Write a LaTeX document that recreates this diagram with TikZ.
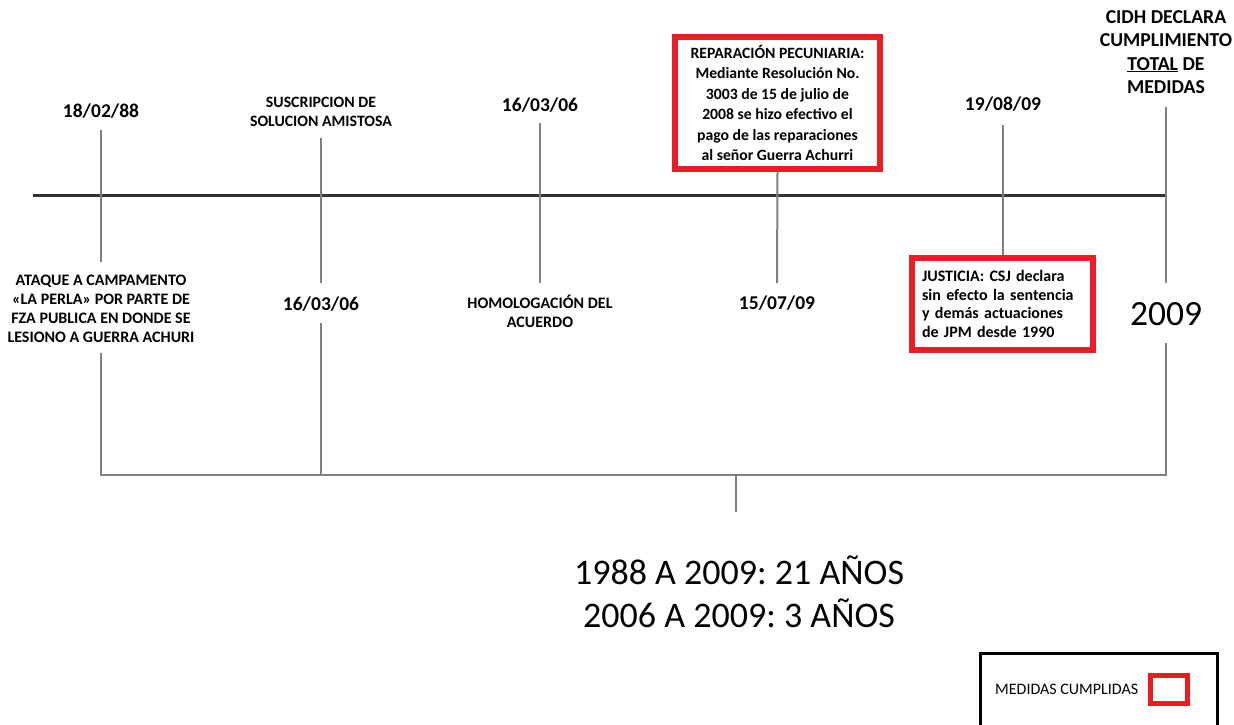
\documentclass[tikz,border=0pt]{standalone}
\usepackage{fontspec}
\setmainfont{Carlito}
\frenchspacing
\definecolor{mred}{HTML}{ED1C24}
\definecolor{axisgray}{HTML}{333333}
\definecolor{tickgray}{HTML}{808080}
\begin{document}
\begin{tikzpicture}[x=1pt,y=-1pt,
  lbl/.style={inner sep=0pt, align=center, font=\bfseries\fontsize{16}{19}\selectfont},
  datelbl/.style={inner sep=0pt, font=\bfseries\fontsize{19.5}{22}\selectfont},
  redbox/.style={draw=mred, line width=6pt, inner sep=0pt},
  tickline/.style={draw=tickgray, line width=2pt},
  axisline/.style={draw=axisgray, line width=3pt}]
\useasboundingbox (0,0) rectangle (1234,725);

% main time axis
\coordinate (axL) at (33,195.5);
\coordinate (axR) at (1166,195.5);
\draw[axisline] (axL) -- (axR);

% upper labels
\node[datelbl] (d1) at (101,111) {18/02/88};
\node[lbl, font=\bfseries\fontsize{15.8}{18.5}\selectfont] (d2) at (321,112) {SUSCRIPCION DE\\SOLUCION AMISTOSA};
\node[datelbl] (d3) at (540,105) {16/03/06};
\node[redbox, minimum width=205pt, minimum height=131pt, align=center,
      font=\bfseries\fontsize{15.7}{20.5}\selectfont] (box1) at (777.5,103)
  {REPARACIÓN PECUNIARIA:\\Mediante Resolución No.\\3003 de 15 de julio de\\2008 se hizo efectivo el\\pago de las reparaciones\\al señor Guerra Achurri};
\node[datelbl] (d5) at (1003,104) {19/08/09};
\node[inner sep=0pt, align=center, font=\bfseries\fontsize{19.7}{23.3}\selectfont] (d6) at (1166,52)
  {CIDH DECLARA\\CUMPLIMIENTO\\\underline{TOTAL} DE\\MEDIDAS};

% lower labels
\node[lbl] (l1) at (101,308.5) {ATAQUE A CAMPAMENTO\\«LA PERLA» POR PARTE DE\\FZA PUBLICA EN DONDE SE\\LESIONO A GUERRA ACHURI};
\node[datelbl] (l2) at (321,304) {16/03/06};
\node[lbl] (l3) at (540,311) {HOMOLOGACIÓN DEL\\ACUERDO};
\node[datelbl] (l4) at (777,303) {15/07/09};
\node[redbox, minimum width=181pt, minimum height=92pt, text width=161pt, align=left,
      font=\bfseries\fontsize{16}{18.6}\selectfont] (box2) at (1002.5,304)
  {JUSTICIA: CSJ declara\\sin efecto la sentencia\\y demás actuaciones\\de JPM desde 1990};
\node[inner sep=0pt, font=\fontsize{35.5}{40}\selectfont] (l6) at (1166,314) {2009};

% tick ends
\coordinate (t1a) at (101,130);  \coordinate (t1b) at (101,262);
\coordinate (t2a) at (321,138);  \coordinate (t2b) at (321,283);
\coordinate (t3a) at (540,123);  \coordinate (t3b) at (540,283);
\coordinate (t4b) at (777,283);
\coordinate (t5a) at (1003,125);
\coordinate (t6a) at (1166,107); \coordinate (t6b) at (1166,283);

% ticks crossing the axis
\draw[tickline] (t1a) -- (t1b);
\draw[tickline] (t2a) -- (t2b);
\draw[tickline] (t3a) -- (t3b);
\draw[tickline] (box1.south) -- (t4b);
\draw[tickline] (t5a) -- (t5a |- box2.north);
\draw[tickline] (t6a) -- (t6b);

% bracket spanning the whole period
\coordinate (b1) at (101,353);
\coordinate (b2) at (321,323);
\coordinate (b6) at (1166,343);
\coordinate (bh) at (736,475);
\coordinate (bs) at (736,512);
\draw[tickline] (b1) -- (b1 |- bh) -- (b6 |- bh) -- (b6);
\draw[tickline] (b2) -- (b2 |- bh);
\draw[tickline] (bh) -- (bs);

% totals
\node[inner sep=0pt, align=center, font=\fontsize{36}{43}\selectfont] (tot) at (739,592)
  {1988 A 2009: 21 AÑOS\\2006 A 2009: 3 AÑOS};

% legend
\draw[black, line width=3pt] (980,653) rectangle (1217,745);
\node[inner sep=0pt, anchor=west, font=\fontsize{16}{18}\selectfont] (leg) at (995,689) {MEDIDAS CUMPLIDAS};
\node[draw=mred, line width=5pt, minimum width=37pt, minimum height=28pt, inner sep=0pt] (legbox) at (1169,689) {};
\end{tikzpicture}
\end{document}
